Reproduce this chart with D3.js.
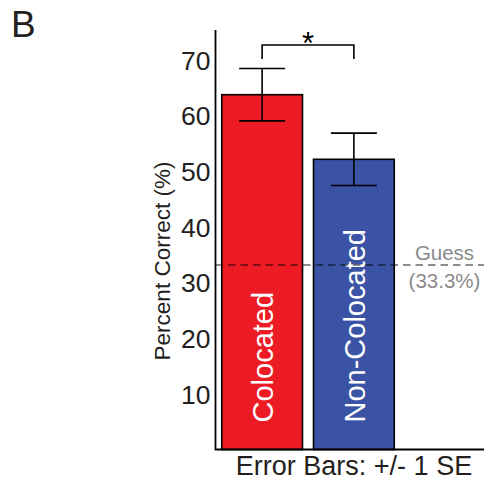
<!DOCTYPE html>
<html>
<head>
<meta charset="utf-8">
<script src="https://cdn.jsdelivr.net/npm/d3@7"></script>
<style>
  body { margin: 0; background: #fff; }
  svg { display: block; }
  text { font-family: "Liberation Sans", Arial, sans-serif; }
</style>
</head>
<body>
<svg id="chart" width="484" height="482"></svg>
<script>
// Accuracy by condition (mean ± 1 SE)
const categories = ["Colocated", "Non-Colocated"];
const means = [63.7, 52.1];
const errors = [4.7, 4.7];
const barColors = ["#ED1C24", "#3A53A4"];
const yTicks = [10, 20, 30, 40, 50, 60, 70];
const guessLevel = 33.3;
const guessLabel = ["Guess", "(33.3%)"];

const svg = d3.select("#chart");
const x0 = 215.5, yBase = 449.5, yTop = 30, xRight = 484;

const y = d3.scaleLinear().domain([0, 70]).range([yBase, 59.6]);
const x = d3.scaleBand().domain(categories).range([219, 397]).paddingInner(0.12).paddingOuter(0.03);

// Panel letter
svg.append("text").attr("x", 11).attr("y", 37)
  .attr("font-family", "'Open Sans', sans-serif").attr("font-size", 37).attr("fill", "#231f20")
  .text("B");

// Bars
svg.selectAll("rect.bar").data(categories).join("rect")
  .attr("class", "bar")
  .attr("x", d => x(d))
  .attr("width", x.bandwidth())
  .attr("y", (d, i) => y(means[i]))
  .attr("height", (d, i) => yBase - y(means[i]))
  .attr("fill", (d, i) => barColors[i])
  .attr("stroke", "#000").attr("stroke-width", 1.6);

// Bar labels, rotated inside the bars
svg.selectAll("text.barlabel").data(categories).join("text")
  .attr("class", "barlabel")
  .attr("transform", d => `translate(${x(d) + x.bandwidth() / 2 + 11},422.5) rotate(-90)`)
  .attr("font-size", 29).attr("fill", "#fff")
  .text(d => d);

// Guess line
svg.append("line")
  .attr("x1", x0).attr("x2", xRight)
  .attr("y1", y(guessLevel) + 1).attr("y2", y(guessLevel) + 1)
  .attr("stroke", "#000").attr("stroke-opacity", 0.6).attr("stroke-width", 1.3)
  .attr("stroke-dasharray", "7.5,5");

svg.selectAll("text.guess").data(guessLabel).join("text")
  .attr("class", "guess")
  .attr("x", 444.5).attr("y", (d, i) => 260 + i * 28)
  .attr("text-anchor", "middle")
  .attr("font-size", 20.5).attr("fill", "#8a8a8a")
  .text(d => d);

// Error bars
const eb = svg.append("g").attr("stroke", "#000").attr("stroke-width", 1.6);
categories.forEach((c, i) => {
  const cx = x(c) + x.bandwidth() / 2;
  const hi = y(means[i] + errors[i]), lo = y(means[i] - errors[i]);
  eb.append("line").attr("x1", cx).attr("x2", cx).attr("y1", hi).attr("y2", lo);
  eb.append("line").attr("x1", cx - 23).attr("x2", cx + 23).attr("y1", hi).attr("y2", hi);
  eb.append("line").attr("x1", cx - 23).attr("x2", cx + 23).attr("y1", lo).attr("y2", lo);
});

// Significance bracket
const c1 = x(categories[0]) + x.bandwidth() / 2, c2 = x(categories[1]) + x.bandwidth() / 2;
svg.append("path")
  .attr("d", `M${c1},59 V45 H${c2} V59`)
  .attr("fill", "none").attr("stroke", "#000").attr("stroke-width", 1.6);
svg.append("text").attr("x", (c1 + c2) / 2).attr("y", 54)
  .attr("text-anchor", "middle").attr("font-size", 31).attr("fill", "#000")
  .text("*");

// Axes
const yAxis = d3.axisLeft(y).tickValues(yTicks).tickSize(0).tickPadding(5);
const gy = svg.append("g").attr("transform", `translate(${x0},0)`).call(yAxis);
gy.select(".domain").remove();
gy.selectAll("text").attr("font-size", 26.5).attr("fill", "#231f20")
  .attr("font-family", "'Liberation Sans', Arial, sans-serif").attr("dy", "0.36em");

svg.append("path")
  .attr("d", `M${x0},${yTop} V${yBase} H${xRight}`)
  .attr("fill", "none").attr("stroke", "#000").attr("stroke-width", 1.8);

// Axis titles
svg.append("text")
  .attr("transform", `translate(170,261) rotate(-90)`)
  .attr("text-anchor", "middle").attr("font-size", 22.5).attr("fill", "#231f20")
  .text("Percent Correct (%)");

svg.append("text").attr("x", 354).attr("y", 475)
  .attr("text-anchor", "middle").attr("font-size", 27).attr("fill", "#231f20")
  .text("Error Bars: +/- 1 SE");
</script>
</body>
</html>
